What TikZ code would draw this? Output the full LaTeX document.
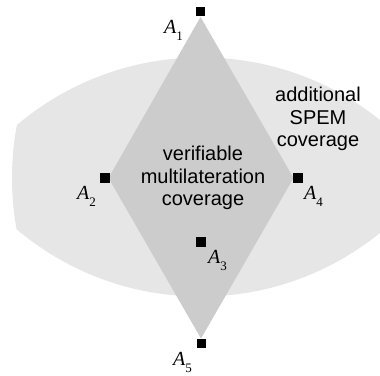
\documentclass[tikz,border=0pt]{standalone}
\usepackage{fontspec}
\setmainfont{Liberation Serif}
\newfontfamily\labelsans{Liberation Sans}
\definecolor{lensgray}{RGB}{230,230,230}
\definecolor{diamgray}{RGB}{204,204,204}
\tikzset{
  anchorsq/.style={fill=black, minimum size=9.5pt, inner sep=0pt, outer sep=0pt},
  alabel/.style={anchor=base west, inner sep=0pt, font=\fontsize{20}{20}\selectfont\itshape},
  covtext/.style={align=center, inner sep=0pt, font=\labelsans\fontsize{20}{22.5}\selectfont}
}
\newcommand{\albl}[1]{A\raisebox{-7pt}{\upshape\fontsize{13}{13}\selectfont #1}}
\begin{document}
\begin{tikzpicture}[x=1pt,y=-1pt]
\useasboundingbox (0,0) rectangle (380,375);
\fill[white] (0,0) rectangle (380,375);
\coordinate (c1) at (200.5,11.5);
\coordinate (c2) at (105,178);
\coordinate (c3) at (201,242);
\coordinate (c4) at (298,178);
\coordinate (c5) at (201.5,343.5);
% lens: intersection of coverage circles
\begin{scope}
  \clip (c1) circle (285pt);
  \clip (c2) circle (286pt);
  \clip (c4) circle (286pt);
  \fill[lensgray] (c5) circle (286pt);
\end{scope}
% diamond
\fill[diamgray] (200.5,17) -- (108.5,178) -- (201,338.5) -- (293.5,178) -- cycle;
% anchors
\node[anchorsq] (A1) at (c1) {};
\node[anchorsq] (A2) at (c2) {};
\node[anchorsq] (A3) at (c3) {};
\node[anchorsq] (A4) at (c4) {};
\node[anchorsq] (A5) at (c5) {};
% labels
\node[alabel] (L1) at (164,33) {\albl{1}};
\node[alabel] (L2) at (77,199) {\albl{2}};
\node[alabel] (L3) at (208,263) {\albl{3}};
\node[alabel] (L4) at (304,199) {\albl{4}};
\node[alabel] (L5) at (173,365) {\albl{5}};
% texts
\node[covtext] (ver) at (203,178) {verifiable\\multilateration\\coverage};
\node[covtext] (spem) at (318,119) {additional\\SPEM\\coverage};
\end{tikzpicture}
\end{document}
